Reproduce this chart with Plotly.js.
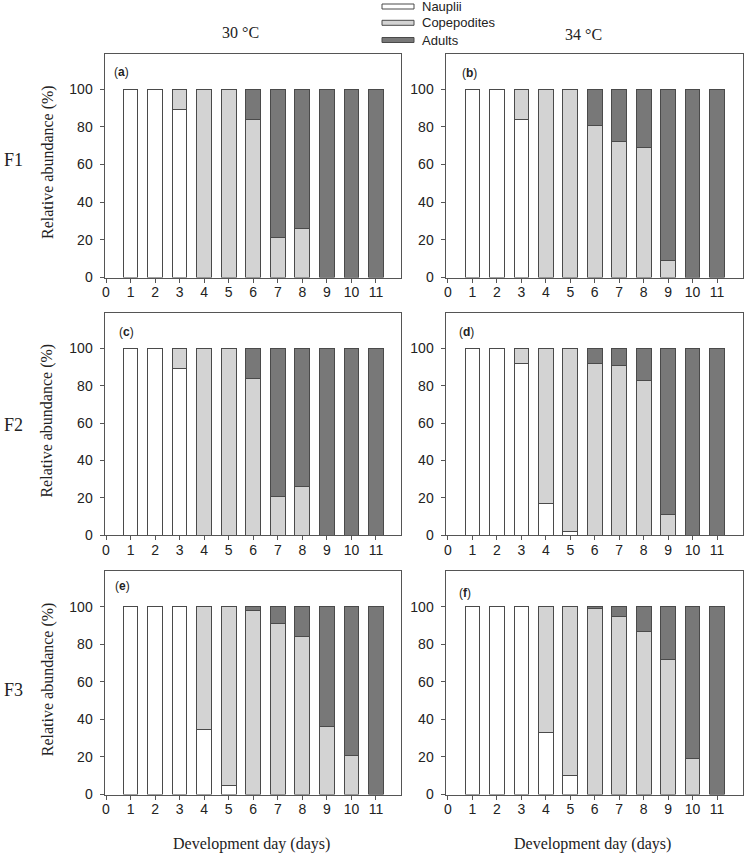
<!DOCTYPE html>
<html><head><meta charset="utf-8">
<script src="https://cdn.plot.ly/plotly-3.0.1.min.js"></script>
<style>html,body{margin:0;padding:0;background:#fff}#chart{width:744px;height:854px}</style>
</head><body><div id="chart"></div>
<script>
// ---- data ----
const days = [1,2,3,4,5,6,7,8,9,10,11];
const tickVals = [0,1,2,3,4,5,6,7,8,9,10,11];
const tickLabels = ['0','1','2','3','4','5','6','7','8','9','10','11'];
const yTickVals = [0,20,40,60,80,100];
const stageNames = ['Nauplii','Copepodites','Adults'];
const panelLabels = ['a','b','c','d','e','f'];
const columnTitles = ['30 °C','34 °C'];
const rowTitles = ['F1','F2','F3'];
const yTitle = 'Relative abundance (%)';
const xTitle = 'Development day (days)';

// (a) 30 °C, F1
const naupliiA     = [100,100,89,0,0,0,0,0,0,0,0];
const copepoditesA = [0,0,11,100,100,84,21,26,0,0,0];
const adultsA      = [0,0,0,0,0,16,79,74,100,100,100];
// (b) 34 °C, F1
const naupliiB     = [100,100,84,0,0,0,0,0,0,0,0];
const copepoditesB = [0,0,16,100,100,80.5,72,69,9,0,0];
const adultsB      = [0,0,0,0,0,19.5,28,31,91,100,100];
// (c) 30 °C, F2
const naupliiC     = [100,100,89,0,0,0,0,0,0,0,0];
const copepoditesC = [0,0,11,100,100,84,20.5,26,0,0,0];
const adultsC      = [0,0,0,0,0,16,79.5,74,100,100,100];
// (d) 34 °C, F2
const naupliiD     = [100,100,92,17,2,0,0,0,0,0,0];
const copepoditesD = [0,0,8,83,98,92,91,83,11,0,0];
const adultsD      = [0,0,0,0,0,8,9,17,89,100,100];
// (e) 30 °C, F3
const naupliiE     = [100,100,100,34.5,5,0,0,0,0,0,0];
const copepoditesE = [0,0,0,65.5,95,98,91,84,36,21,0];
const adultsE      = [0,0,0,0,0,2,9,16,64,79,100];
// (f) 34 °C, F3
const naupliiF     = [100,100,100,33,10,0,0,0,0,0,0];
const copepoditesF = [0,0,0,67,90,99,95,87,72,19,0];
const adultsF      = [0,0,0,0,0,1,5,13,28,81,100];

const panels = [
  [naupliiA, copepoditesA, adultsA],
  [naupliiB, copepoditesB, adultsB],
  [naupliiC, copepoditesC, adultsC],
  [naupliiD, copepoditesD, adultsD],
  [naupliiE, copepoditesE, adultsE],
  [naupliiF, copepoditesF, adultsF]
];

// ---- styling / geometry ----
const W = 744, H = 854;
const fillColors = ['#ffffff', '#d3d3d3', '#787878'];
const sans = 'Liberation Sans, Arial, sans-serif';
const serif = 'Liberation Serif, Times New Roman, serif';
const textColor = '#222';
const px = v => v / W;
const py = v => 1 - v / H;

const colBox = [[104.5, 400.5], [445.5, 742.5]];
const colRange = [[-0.061, 12.0], [-0.102, 12.04]];
const rowBox = [[53.5, 277.5], [312.8, 535.3], [571, 794.5]];
const yMax = 119;

const traces = [];
const layout = {
  width: W, height: H,
  margin: {l: 0, r: 0, t: 0, b: 0},
  paper_bgcolor: '#fff', plot_bgcolor: '#fff',
  barmode: 'stack',
  bargap: 0,
  showlegend: false,
  font: {family: sans, size: 14, color: textColor},
  annotations: [],
  shapes: []
};

panels.forEach((series, i) => {
  const col = i % 2, row = Math.floor(i / 2);
  const n = i === 0 ? '' : String(i + 1);
  series.forEach((vals, s) => {
    traces.push({
      type: 'bar',
      name: stageNames[s],
      x: days,
      y: vals.map(v => v === 0 ? null : v),
      width: 0.6,
      xaxis: 'x' + n, yaxis: 'y' + n,
      marker: {color: fillColors[s], line: {color: '#4a4a4a', width: 1}},
      hoverinfo: 'x+y+name'
    });
  });
  layout['xaxis' + n] = {
    domain: [px(colBox[col][0]), px(colBox[col][1])],
    anchor: 'y' + n,
    range: colRange[col],
    tickmode: 'array', tickvals: tickVals, ticktext: tickLabels,
    ticks: 'outside', ticklen: 4, tickcolor: '#555', tickwidth: 1,
    ticklabelstandoff: -2,
    showline: true, mirror: true, linecolor: '#555', linewidth: 1,
    showgrid: false, zeroline: false,
    tickfont: {family: sans, size: 14, color: textColor}
  };
  layout['yaxis' + n] = {
    domain: [py(rowBox[row][1]), py(rowBox[row][0])],
    anchor: 'x' + n,
    range: [0, yMax],
    tickmode: 'array', tickvals: yTickVals,
    ticks: 'outside', ticklen: 4, tickcolor: '#555', tickwidth: 1,
    ticklabelstandoff: 4,
    showline: true, mirror: true, linecolor: '#555', linewidth: 1,
    showgrid: false, zeroline: false,
    tickfont: {family: sans, size: 14, color: textColor}
  };
  if (col === 0) {
    layout.annotations.push({
      xref: 'paper', yref: 'paper', x: px(47.5), y: py((rowBox[row][0] + rowBox[row][1]) / 2 - 3),
      xanchor: 'center', yanchor: 'middle', showarrow: false, textangle: -90,
      text: yTitle, font: {family: serif, size: 16, color: textColor}
    });
  }
  if (row === 2) {
    layout.annotations.push({
      xref: 'paper', yref: 'paper', x: px(col === 0 ? 251.5 : 592.5), y: py(844),
      xanchor: 'center', yanchor: 'middle', showarrow: false,
      text: xTitle, font: {family: serif, size: 16, color: textColor}
    });
  }
});

// panel letters
const labelPos = [[111.7, 72], [460, 73], [117, 332], [456.7, 332], [112.7, 586], [456.7, 593]];
panelLabels.forEach((l, i) => {
  layout.annotations.push({
    xref: 'paper', yref: 'paper', x: px(labelPos[i][0]), y: py(labelPos[i][1]),
    xanchor: 'left', yanchor: 'middle', showarrow: false,
    text: '(<b>' + l + '</b>)', font: {family: sans, size: 12, color: textColor}
  });
});

// column titles
[[240, 32], [583, 34]].forEach((p, i) => {
  layout.annotations.push({
    xref: 'paper', yref: 'paper', x: px(p[0]), y: py(p[1]),
    xanchor: 'center', yanchor: 'middle', showarrow: false,
    text: columnTitles[i], font: {family: serif, size: 16, color: textColor}
  });
});

// row titles
[160, 425, 690].forEach((yy, i) => {
  layout.annotations.push({
    xref: 'paper', yref: 'paper', x: px(2), y: py(yy),
    xanchor: 'left', yanchor: 'middle', showarrow: false,
    text: rowTitles[i], font: {family: serif, size: 18, color: textColor}
  });
});

// legend
[6.5, 22.8, 40].forEach((yy, s) => {
  layout.shapes.push({
    type: 'rect', xref: 'paper', yref: 'paper',
    x0: px(382), x1: px(414), y0: py(yy - 2.5), y1: py(yy + 2.5),
    fillcolor: fillColors[s], line: {color: '#4a4a4a', width: 1}
  });
  layout.annotations.push({
    xref: 'paper', yref: 'paper', x: px(420), y: py(yy),
    xanchor: 'left', yanchor: 'middle', showarrow: false,
    text: stageNames[s], font: {family: sans, size: 13, color: textColor}
  });
});

Plotly.newPlot('chart', traces, layout, {displayModeBar: false, staticPlot: true});
</script>
</body></html>
